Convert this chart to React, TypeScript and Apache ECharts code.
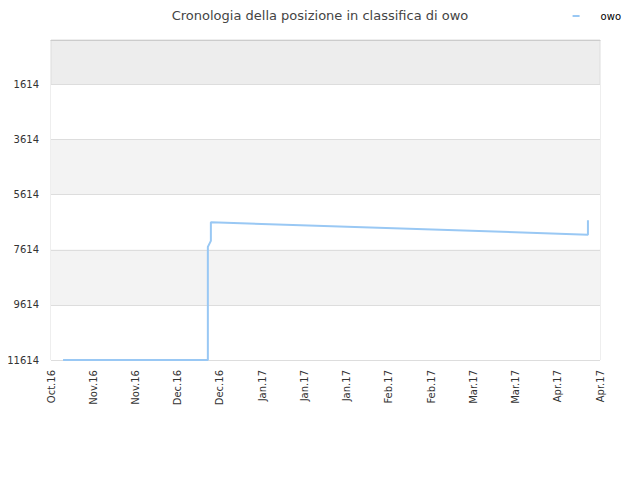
import { useEffect, useRef } from 'react';
import * as echarts from 'echarts';

// axis starts on this date, one tick every 14 days
const startDate = '2016-10-24';
const tickDays = 14;
const axisDays = 182;

const months = ['Jan', 'Feb', 'Mar', 'Apr', 'May', 'Jun', 'Jul', 'Aug', 'Sep', 'Oct', 'Nov', 'Dec'];

const rankTicks = [1614, 3614, 5614, 7614, 9614, 11614];

// owo position over time (day offset from startDate)
const days = [4, 52, 52, 53, 53, 178, 178];
const ranks = [11614, 11614, 7510, 7290, 6615, 7065, 6540];

const DAY = 24 * 3600 * 1000;

function dayLabel(d: number) {
  const t = new Date(Date.parse(startDate + 'T00:00:00Z') + d * DAY);
  return months[t.getUTCMonth()] + '.' + String(t.getUTCFullYear()).slice(2);
}

export default function App() {
  const chartRef = useRef(null);

  useEffect(() => {
    const chart = echarts.init(chartRef.current, null, { renderer: 'svg' });
    const option = {
      animation: false,
      textStyle: { fontFamily: 'DejaVu Sans' },
      title: {
        text: 'Cronologia della posizione in classifica di owo',
        left: 'center',
        top: 4,
        textStyle: { fontSize: 13, fontWeight: 'normal', color: '#444', fontFamily: 'DejaVu Sans' },
      },
      legend: {
        data: ['owo'],
        right: 14,
        top: 6,
        icon: 'rect',
        itemWidth: 7,
        itemHeight: 2,
        itemGap: 5,
        textStyle: { fontSize: 10, color: '#000', padding: [0, 0, 0, 16] },
      },
      grid: {
        left: 51,
        right: 40,
        top: 40,
        bottom: 120,
        show: true,
        backgroundColor: '#ededed',
        borderColor: '#dddddd',
        borderWidth: 1,
      },
      xAxis: {
        type: 'value',
        min: 0,
        max: axisDays,
        interval: tickDays,
        axisLine: { show: true, lineStyle: { color: '#cccccc' } },
        axisTick: { show: false },
        splitLine: { show: false },
        axisLabel: {
          rotate: 90,
          fontSize: 10,
          color: '#333',
          margin: 10,
          formatter: (v: number) => dayLabel(v),
        },
      },
      yAxis: {
        type: 'value',
        inverse: true,
        min: 0,
        max: 11614,
        axisLine: { show: false },
        axisTick: { show: false, customValues: rankTicks },
        axisLabel: {
          fontSize: 10,
          color: '#333',
          margin: 12,
          customValues: rankTicks,
          formatter: (v: number) => String(v),
        },
        splitLine: { show: true, lineStyle: { color: '#dddddd' } },
        splitArea: { show: true, areaStyle: { color: ['#ffffff', '#f3f3f3'] } },
      },
      series: [
        {
          name: 'owo',
          type: 'line',
          symbol: 'none',
          data: days.map((d, i) => [d, ranks[i]]),
          lineStyle: { color: '#99c8f4', width: 2 },
          itemStyle: { color: '#99c8f4' },
        },
      ],
    };
    chart.setOption(option);
    return () => {
      chart.dispose();
    };
  }, []);

  return <div ref={chartRef} style={{ width: '640px', height: '480px', margin: '-8px' }} />;
}
